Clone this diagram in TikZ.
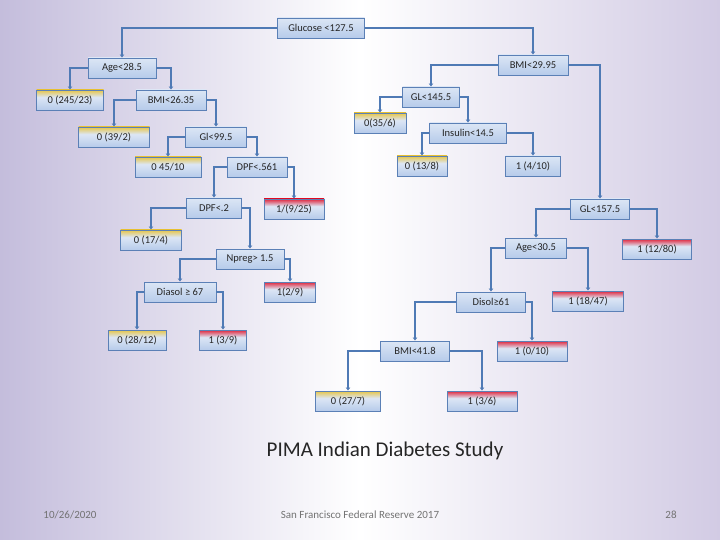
\documentclass[tikz,border=0pt]{standalone}
\usepackage{fontspec}
\setmainfont{Carlito}
\usetikzlibrary{arrows.meta}
\definecolor{lb}{HTML}{B6CBEA}
\definecolor{lbt}{HTML}{DCE6F5}
\definecolor{yel}{HTML}{E6C548}
\definecolor{rd}{HTML}{E0253C}
\definecolor{bd}{HTML}{5B80B6}
\definecolor{ln}{HTML}{4F7AB5}
\pgfdeclareverticalshading{inshade}{100bp}{color(0bp)=(lb); color(25bp)=(lb); color(75bp)=(lbt); color(100bp)=(lbt)}
\pgfdeclareverticalshading{yshade}{100bp}{color(0bp)=(lb); color(25bp)=(lb); color(57bp)=(lbt); color(75bp)=(yel); color(100bp)=(yel)}
\pgfdeclareverticalshading{rshade}{100bp}{color(0bp)=(lb); color(25bp)=(lb); color(57bp)=(lbt); color(75bp)=(rd); color(100bp)=(rd)}
\begin{document}
\begin{tikzpicture}[x=1pt,y=-1pt,
  box/.style={draw=bd, line width=0.8pt, minimum height=20pt, inner sep=1pt, font=\fontsize{10.5}{12}\selectfont, text=black!85},
  inbox/.style={box, shading=inshade},
  ybox/.style={box, shading=yshade},
  rbox/.style={box, shading=rshade},
  edge/.style={draw=ln, line width=2.4pt, -{Latex[length=3pt,width=5pt]}},
  foot/.style={font=\fontsize{11}{13}\selectfont, text=black!55}]
\useasboundingbox (0,0) rectangle (720,540);
\shade[left color={rgb,255:red,196;green,189;blue,220}, right color={rgb,255:red,210;green,203;blue,228}, middle color=white] (0,0) rectangle (720,540);
% internal nodes
\node[inbox, minimum width=87pt] (g) at (321,28) {Glucose <127.5};
\node[inbox, minimum width=68pt] (a) at (122,68) {Age<28.5};
\node[inbox, minimum width=70pt] (b26) at (171,100) {BMI<26.35};
\node[inbox, minimum width=61pt] (gl99) at (216,137) {Gl<99.5};
\node[inbox, minimum width=60pt] (d561) at (257,167) {DPF<.561};
\node[inbox, minimum width=55pt] (d2) at (214,208) {DPF<.2};
\node[inbox, minimum width=68pt] (np) at (250,259) {Npreg> 1.5};
\node[inbox, minimum width=72pt] (ds) at (180,292) {Diasol ≥ 67};
\node[inbox, minimum width=70pt] (b29) at (533,65) {BMI<29.95};
\node[inbox, minimum width=57pt] (gl145) at (431,97) {GL<145.5};
\node[inbox, minimum width=77pt] (ins) at (468,133) {Insulin<14.5};
\node[inbox, minimum width=59pt] (gl157) at (600,209) {GL<157.5};
\node[inbox, minimum width=61pt] (a30) at (536,248) {Age<30.5};
\node[inbox, minimum width=69pt] (dis) at (491,302) {Disol≥61};
\node[inbox, minimum width=69pt] (b41) at (415,351) {BMI<41.8};
% leaves
\node[ybox, minimum width=67pt] (l1) at (70,100) {0 (245/23)};
\node[ybox, minimum width=71pt] (l2) at (114,137) {0 (39/2)};
\node[ybox, minimum width=66pt] (l3) at (168,167) {0 45/10};
\node[rbox, minimum width=60pt] (l4) at (294,209) {1/(9/25)};
\node[ybox, minimum width=61pt] (l5) at (151,240) {0 (17/4)};
\node[rbox, minimum width=51pt] (l6) at (290,292) {1(2/9)};
\node[ybox, minimum width=58pt] (l7) at (137,340) {0 (28/12)};
\node[rbox, minimum width=47pt] (l8) at (223,340) {1 (3/9)};
\node[ybox, minimum width=52pt] (l9) at (380,123) {0(35/6)};
\node[ybox, minimum width=50pt] (l10) at (422,166) {0 (13/8)};
\node[inbox, minimum width=55pt] (l11) at (533,166) {1 (4/10)};
\node[rbox, minimum width=69pt] (l12) at (657,249) {1 (12/80)};
\node[rbox, minimum width=71pt] (l13) at (588,301) {1 (18/47)};
\node[rbox, minimum width=70pt] (l14) at (532,351) {1 (0/10)};
\node[ybox, minimum width=65pt] (l15) at (348,401) {0 (27/7)};
\node[rbox, minimum width=70pt] (l16) at (482,401) {1 (3/6)};
% edges
\draw[edge] (g.west) -| (a.north);
\draw[edge] (g.east) -| (b29.north);
\draw[edge] (a.west) -| (l1.north);
\draw[edge] (a.east) -| (b26.north);
\draw[edge] (b26.west) -| (l2.north);
\draw[edge] (b26.east) -| (gl99.north);
\draw[edge] (gl99.west) -| (l3.north);
\draw[edge] (gl99.east) -| (d561.north);
\draw[edge] (d561.west) -| (d2.north);
\draw[edge] (d561.east) -| (l4.north);
\draw[edge] (d2.west) -| (l5.north);
\draw[edge] (d2.east) -| (np.north);
\draw[edge] (np.west) -| (ds.north);
\draw[edge] (np.east) -| (l6.north);
\draw[edge] (ds.west) -| (l7.north);
\draw[edge] (ds.east) -| (l8.north);
\draw[edge] (b29.west) -| (gl145.north);
\draw[edge] (b29.east) -| (gl157.north);
\draw[edge] (gl145.west) -| (l9.north);
\draw[edge] (gl145.east) -| (ins.north);
\draw[edge] (ins.west) -| (l10.north);
\draw[edge] (ins.east) -| (l11.north);
\draw[edge] (gl157.west) -| (a30.north);
\draw[edge] (gl157.east) -| (l12.north);
\draw[edge] (a30.west) -| (dis.north);
\draw[edge] (a30.east) -| (l13.north);
\draw[edge] (dis.west) -| (b41.north);
\draw[edge] (dis.east) -| (l14.north);
\draw[edge] (b41.west) -| (l15.north);
\draw[edge] (b41.east) -| (l16.north);
% title and footer
\node[font=\fontsize{21}{25}\selectfont, text=black!85] (title) at (385,451) {PIMA Indian Diabetes Study};
\node[foot] (date) at (70,515) {10/26/2020};
\node[foot] (src) at (360,515) {San Francisco Federal Reserve 2017};
\node[foot] (pg) at (671,515) {28};
\end{tikzpicture}
\end{document}
